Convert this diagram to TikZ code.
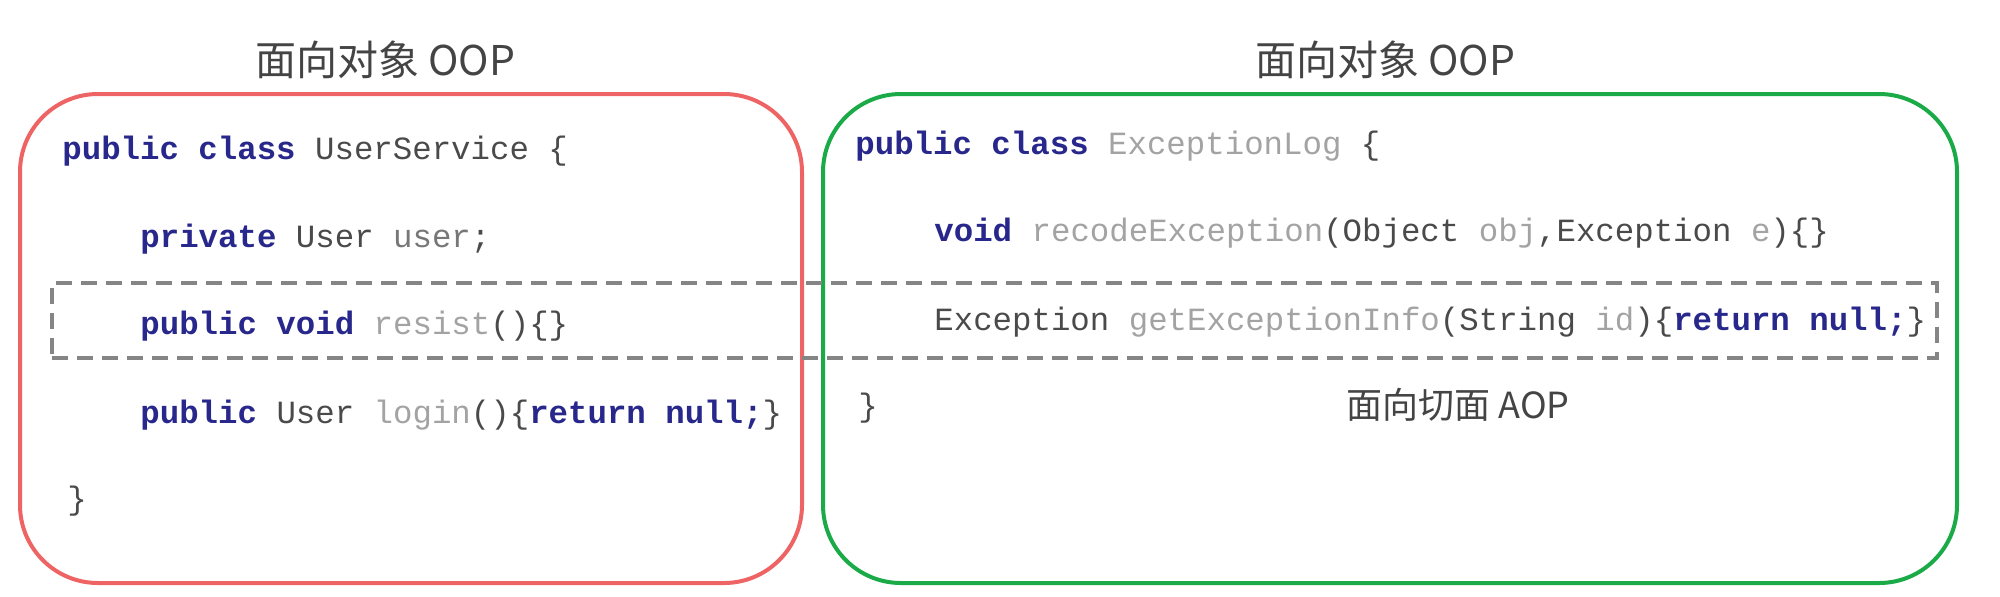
\documentclass[tikz,border=0pt]{standalone}
\usepackage{fontspec}
\setmonofont{Liberation Mono}
\newfontfamily\cjk{Noto Sans CJK SC}
\definecolor{kwc}{HTML}{28288C}
\definecolor{txc}{HTML}{4A4A4A}
\definecolor{idc}{HTML}{A3A3A3}
\definecolor{mdc}{HTML}{777777}
\definecolor{redc}{HTML}{EE6464}
\definecolor{grnc}{HTML}{1AAA48}
\definecolor{dashc}{HTML}{858585}
\definecolor{ttlc}{HTML}{444444}
\newcommand\codekw[1]{{\bfseries\color{kwc}#1}}
\newcommand\codeid[1]{{\color{idc}#1}}
\newcommand\codemd[1]{{\color{mdc}#1}}
\tikzset{
  codeline/.style={anchor=base west, inner sep=0pt, font=\fontsize{16.2pt}{19pt}\ttfamily, text=txc},
  ttl/.style={inner sep=0pt, font=\cjk\fontsize{20.5pt}{24pt}\selectfont, text=ttlc},
  aopttl/.style={inner sep=0pt, font=\cjk\fontsize{18pt}{22pt}\selectfont, text=ttlc},
  bigbox/.style={draw, line width=2pt, rounded corners=39pt, minimum height=244.5pt, inner sep=0pt},
  aspectbox/.style={draw=dashc, line width=2pt, dash pattern=on 8pt off 4.5pt, minimum height=37.5pt, minimum width=942.5pt, inner sep=0pt}
}
\begin{document}
\begin{tikzpicture}[x=0.5pt,y=-0.5pt]
\useasboundingbox (0,0) rectangle (2000,596);
% boxes
\node[bigbox, draw=redc, minimum width=391pt] (oopL) at (411,338.5) {};
\node[bigbox, draw=grnc, minimum width=567pt] (oopR) at (1390,338.5) {};
\node[aspectbox] (aop) at (994.5,320.5) {};
% titles
\node[ttl] (tL) at (385,60) {面向对象 OOP};
\node[ttl] (tR) at (1385,60) {面向对象 OOP};
\node[aopttl] (tA) at (1458,405) {面向切面 AOP};
% left code
\node[codeline] (l1) at (62,159) {\codekw{public class} UserService \{};
\node[codeline] (l2) at (140,247) {\codekw{private} User \codemd{user};};
\node[codeline] (l3) at (140,334) {\codekw{public void} \codeid{resist}()\{\}};
\node[codeline] (l4) at (140,423) {\codekw{public} User \codeid{login}()\{\codekw{return null;}\}};
\node[codeline] (l5) at (67,509) {\}};
% right code
\node[codeline] (r1) at (855,154) {\codekw{public class} \codeid{ExceptionLog} \{};
\node[codeline] (r2) at (934,241) {\codekw{void} \codeid{recodeException}(Object \codeid{obj},Exception \codeid{e})\{\}};
\node[codeline] (r3) at (934,330) {Exception \codeid{getExceptionInfo}(String \codeid{id})\{\codekw{return null;}\}};
\node[codeline] (r4) at (858,416) {\}};
\end{tikzpicture}
\end{document}
